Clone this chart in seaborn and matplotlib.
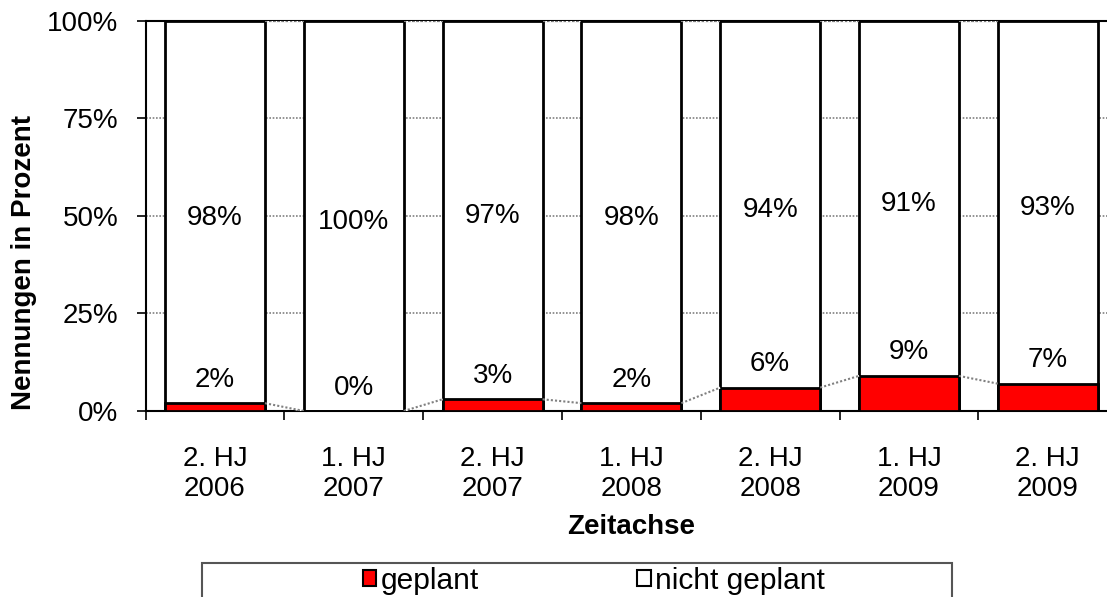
import numpy as np
import pandas as pd
import seaborn as sns
from matplotlib import pyplot as plt
from matplotlib.patches import Rectangle, Patch

halbjahre = ["2. HJ\n2006", "1. HJ\n2007", "2. HJ\n2007", "1. HJ\n2008",
             "2. HJ\n2008", "1. HJ\n2009", "2. HJ\n2009"]
geplant = [2, 0, 3, 2, 6, 9, 7]
nicht_geplant = [98, 100, 97, 98, 94, 91, 93]
y_ticks = [0, 25, 50, 75, 100]

sns.set_style("white")
plt.rcParams['font.family'] = ['Liberation Sans', 'DejaVu Sans']
plt.rcParams.update({"text.color": "black", "axes.labelcolor": "black",
                     "xtick.color": "black", "ytick.color": "black"})

df = pd.DataFrame({"Halbjahr": halbjahre, "geplant": geplant,
                   "nicht geplant": nicht_geplant})
df["gesamt"] = df["geplant"] + df["nicht geplant"]

fig = plt.figure(figsize=(11.07, 5.97), dpi=100)
ax = fig.add_axes([0.1315, 0.3116, 0.8777, 0.6533])

bw = 0.72
sns.barplot(data=df, x="Halbjahr", y="gesamt", color="white", saturation=1,
            edgecolor="black", linewidth=2, width=bw, ax=ax, zorder=3)
sns.barplot(data=df, x="Halbjahr", y="geplant", color="#ff0000", saturation=1,
            edgecolor="black", linewidth=2, width=bw, ax=ax, zorder=4)

# gridlines (only visible in the gaps)
for yv in y_ticks[1:-1]:
    ax.axhline(yv, color="grey", lw=1.2, ls=(0, (1, 1)), zorder=1)

# series lines between the bars
oben = list(df["gesamt"])
for i in range(len(halbjahre) - 1):
    xs = [i + bw / 2, i + 1 - bw / 2]
    for serie in (geplant, oben):
        line, = ax.plot(xs, [serie[i], serie[i + 1]], color="grey", lw=1.5,
                        ls=(0, (1, 1)), zorder=5)
        line.set_gapcolor("white")

# data labels
for i, (g, n) in enumerate(zip(geplant, nicht_geplant)):
    ax.text(i, g + 6, f"{g}%", ha="center", va="center", fontsize=20, zorder=6)
    ax.text(i, g + n / 2 - 1.5, f"{n}%", ha="center", va="center", fontsize=20, zorder=6)

ax.set_xlim(-0.5, 6.5)
ax.set_ylim(0, 100)
ax.set_yticks(y_ticks, [f"{v}%" for v in y_ticks])
ax.set_xticks(range(len(halbjahre)), halbjahre)
ax.set_xticks(np.arange(-0.5, len(halbjahre)), minor=True)
ax.tick_params(axis="y", left=True, direction="out", length=6.5, width=1.2,
               pad=13, labelsize=20, color="black")
ax.tick_params(axis="x", which="major", bottom=True, length=0, pad=25, labelsize=20)
ax.tick_params(axis="x", which="minor", bottom=True, direction="out",
               length=6.5, width=1.2, color="black")

for side in ["left", "bottom", "top"]:
    ax.spines[side].set_visible(True)
    ax.spines[side].set_color("black")
    ax.spines[side].set_linewidth(1.5)
ax.spines["right"].set_visible(False)

ax.set_xlabel("Zeitachse", fontsize=20, fontweight="bold", labelpad=9)
ax.set_ylabel("Nennungen in Prozent", fontsize=20, fontweight="bold")
ax.yaxis.set_label_coords(-0.112, 0.38)

# legend box at the bottom
fig.patches.append(Rectangle((202 / 1107, -0.1), 750 / 1107, (597 - 563) / 597 + 0.1,
                             transform=fig.transFigure, fill=False,
                             edgecolor="#555555", lw=1.5))
handles = [Patch(facecolor="#ff0000", edgecolor="black", lw=1.5, label="geplant"),
           Patch(facecolor="white", edgecolor="black", lw=1.5, label="nicht geplant")]
fig.legend(handles=handles, loc="center left", bbox_to_anchor=(363 / 1107, 1 - 581 / 597),
           ncol=2, frameon=False, fontsize=21.5, handlelength=0.45, handleheight=0.45,
           handletextpad=0.15, columnspacing=5.3, borderpad=0, borderaxespad=0)

fig.savefig("out.png", dpi=100)
